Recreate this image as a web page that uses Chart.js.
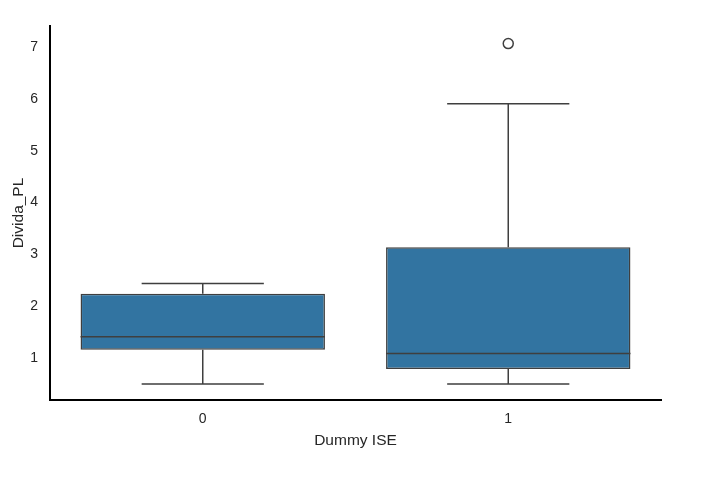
<!DOCTYPE html>
<html>
<head>
<meta charset="utf-8">
<script src="https://cdn.jsdelivr.net/npm/chart.js@4/dist/chart.umd.min.js"></script>
<style>
  html, body { margin: 0; padding: 0; background: #fff; }
  #wrap { width: 715px; height: 487px; }
</style>
</head>
<body>
<div id="wrap"><canvas id="box"></canvas></div>
<script>
// values
const groups = ['0', '1'];
const whiskerLow = [0.50, 0.50];
const q1 = [1.16, 0.79];
const median = [1.41, 1.09];
const q3 = [2.24, 3.14];
const whiskerHigh = [2.44, 5.91];
const outliers = [[], [7.07]];
const yTicks = [1, 2, 3, 4, 5, 6, 7];

const lineColor = '#3f3f3f';
const boxColor = '#3274a1';
const textColor = '#262626';

// whiskers, caps and medians, placed with the chart's own scales
const boxExtras = {
    id: 'boxExtras',
    afterDatasetsDraw(chart) {
        const {ctx, scales: {x, y}} = chart;
        const catW = x.getPixelForValue(1) - x.getPixelForValue(0);
        const capHalf = catW * 0.2;
        const boxHalf = catW * 0.4;
        ctx.save();
        ctx.strokeStyle = lineColor;
        ctx.lineWidth = 1.5;
        groups.forEach((g, i) => {
            const cx = x.getPixelForValue(i);
            ctx.beginPath();
            // lower whisker
            ctx.moveTo(cx, y.getPixelForValue(whiskerLow[i]));
            ctx.lineTo(cx, y.getPixelForValue(q1[i]));
            // upper whisker
            ctx.moveTo(cx, y.getPixelForValue(q3[i]));
            ctx.lineTo(cx, y.getPixelForValue(whiskerHigh[i]));
            // caps
            ctx.moveTo(cx - capHalf, y.getPixelForValue(whiskerLow[i]));
            ctx.lineTo(cx + capHalf, y.getPixelForValue(whiskerLow[i]));
            ctx.moveTo(cx - capHalf, y.getPixelForValue(whiskerHigh[i]));
            ctx.lineTo(cx + capHalf, y.getPixelForValue(whiskerHigh[i]));
            // median
            ctx.moveTo(cx - boxHalf, y.getPixelForValue(median[i]));
            ctx.lineTo(cx + boxHalf, y.getPixelForValue(median[i]));
            ctx.stroke();
        });
        ctx.restore();
    }
};

const outlierPoints = [];
outliers.forEach((list, i) => list.forEach(v => outlierPoints.push({x: groups[i], y: v})));

new Chart(document.getElementById('box'), {
    type: 'bar',
    data: {
        labels: groups,
        datasets: [{
            label: 'box',
            data: groups.map((g, i) => [q1[i], q3[i]]),
            backgroundColor: boxColor,
            borderColor: lineColor,
            borderWidth: 1.5,
            borderSkipped: false,
            barPercentage: 0.8,
            categoryPercentage: 1,
            grouped: false,
            order: 2
        }, {
            type: 'line',
            label: 'outliers',
            data: outlierPoints,
            showLine: false,
            pointStyle: 'circle',
            pointRadius: 5,
            pointBorderWidth: 1.5,
            pointBorderColor: lineColor,
            pointBackgroundColor: 'rgba(0,0,0,0)',
            order: 1
        }]
    },
    options: {
        responsive: true,
        maintainAspectRatio: false,
        animation: false,
        layout: {
            padding: {top: 26, right: 54, left: 0, bottom: 0}
        },
        scales: {
            x: {
                offset: true,
                grid: {display: false, drawTicks: false},
                border: {display: true, color: '#000', width: 2},
                ticks: {
                    color: textColor,
                    padding: 11,
                    font: {family: 'Liberation Sans', size: 14}
                },
                title: {
                    display: true,
                    text: 'Dummy ISE',
                    color: textColor,
                    padding: {top: 0, bottom: 37},
                    font: {family: 'Liberation Sans', size: 15.5}
                },
                afterFit: (s) => { s.height = 87; }
            },
            y: {
                min: 0.19,
                max: 7.41,
                grid: {display: false, drawTicks: false},
                border: {display: true, color: '#000', width: 2},
                afterBuildTicks: (s) => { s.ticks = yTicks.map(v => ({value: v})); },
                ticks: {
                    color: textColor,
                    padding: 12,
                    font: {family: 'Liberation Sans', size: 14}
                },
                title: {
                    display: true,
                    text: 'Divida_PL',
                    color: textColor,
                    padding: {top: 9, bottom: 0},
                    font: {family: 'Liberation Sans', size: 15.5}
                },
                afterFit: (s) => { s.width = 50; }
            }
        },
        plugins: {
            legend: {display: false},
            tooltip: {enabled: false}
        }
    },
    plugins: [boxExtras]
});
</script>
</body>
</html>
